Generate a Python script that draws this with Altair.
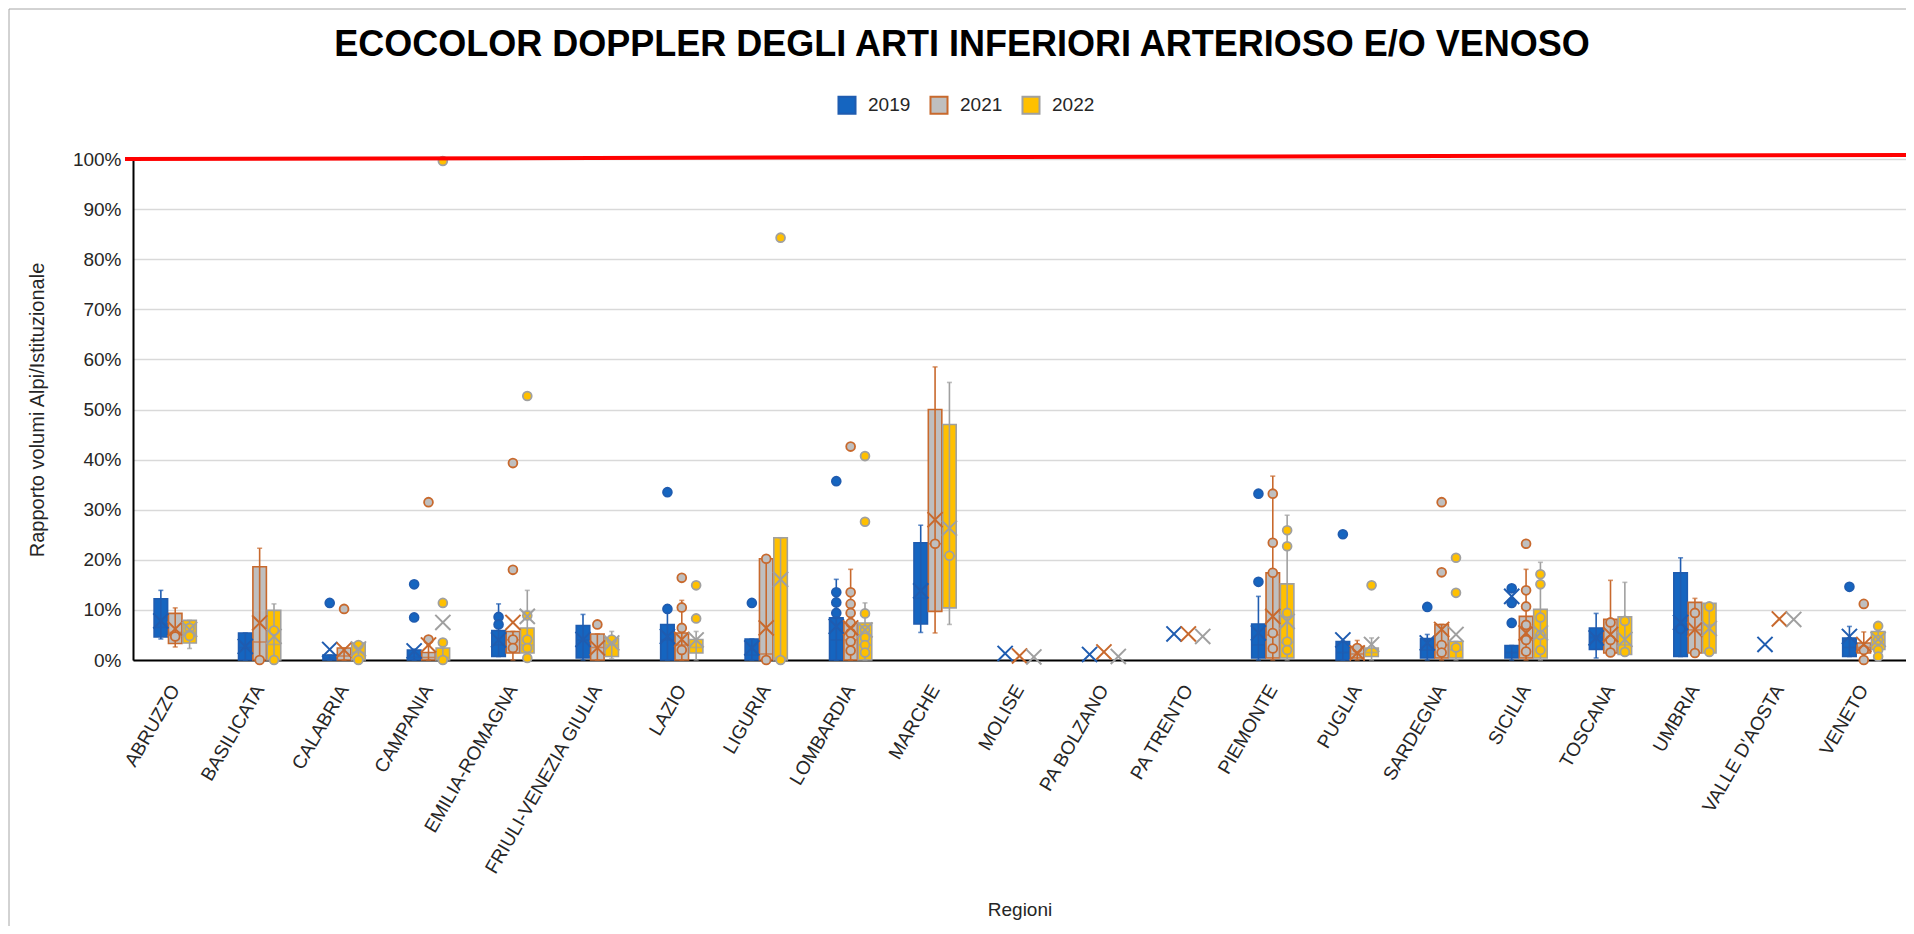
import altair as alt
import pandas as pd

TITLE = "ECOCOLOR DOPPLER DEGLI ARTI INFERIORI ARTERIOSO E/O VENOSO"
REGIONS = ["ABRUZZO", "BASILICATA", "CALABRIA", "CAMPANIA", "EMILIA-ROMAGNA",
           "FRIULI-VENEZIA GIULIA", "LAZIO", "LIGURIA", "LOMBARDIA", "MARCHE",
           "MOLISE", "PA BOLZANO", "PA TRENTO", "PIEMONTE", "PUGLIA", "SARDEGNA",
           "SICILIA", "TOSCANA", "UMBRIA", "VALLE D'AOSTA", "VENETO"]
YEARS = ["2019", "2021", "2022"]
N = None

# ---- 2019 (values in %) ----
LO_2019 = [4.2, 0, 0, 0, 0.7, 0, 0, 0, 0, 5.5, N, N, N, 0, 0, 0, 0, 0.4, 0.7, N, 0.7]
Q1_2019 = [4.6, 0, 0, 0, 0.7, 0.4, 0, 0, 0, 7.2, N, N, N, 0.4, 0, 0.4, 0.4, 2.1, 0.7, N, 0.7]
MED_2019 = [6.5, 2.5, 0.3, 0.5, 3.0, 4.0, 4.0, 1.0, 4.0, 12.3, N, N, N, 3.0, 1.5, 2.0, 1.5, 4.5, 6.2, N, 2.5]
Q3_2019 = [12.2, 5.4, 1.0, 2.0, 5.9, 6.9, 7.1, 4.2, 8.4, 23.4, N, N, N, 7.2, 3.7, 4.3, 2.9, 6.4, 17.4, N, 4.4]
HI_2019 = [13.9, 5.4, 1.0, 2.2, 11.2, 9.1, 11.0, 4.2, 16.1, 26.9, N, N, N, 12.7, 3.7, 5.1, 2.9, 9.3, 20.4, N, 6.7]
MEAN_2019 = [7.8, 2.7, 2.1, 1.8, 4.0, 4.1, 4.7, 2.4, 6.7, 13.8, 1.3, 1.1, 5.2, 5.4, 4.0, 3.4, 12.7, 4.4, 7.5, 3.1, 4.7]
POINTS_2019 = {"CALABRIA": [11.4], "CAMPANIA": [15.1, 8.5], "EMILIA-ROMAGNA": [8.6, 7.1],
               "LAZIO": [33.5, 10.2], "LIGURIA": [11.4], "LOMBARDIA": [35.7, 13.5, 11.5, 9.4],
               "PIEMONTE": [33.2, 15.6], "PUGLIA": [25.1], "SARDEGNA": [10.6],
               "SICILIA": [14.3, 11.4, 7.4], "UMBRIA": [6.2], "VENETO": [14.6]}

# ---- 2021 ----
LO_2021 = [2.6, 0, 0, 0, 0, 0, 0, 0, 0, 5.4, N, N, N, 0, 0, 0, 0, 1.4, 1.4, N, 0]
Q1_2021 = [3.3, 0, 0, 0, 1.4, 0, 0, 0, 0, 9.7, N, N, N, 0.4, 0.4, 0.4, 0.4, 1.4, 1.4, N, 1.4]
MED_2021 = [5.5, 3.6, 0.8, 0.5, 4.0, 2.5, 3.0, 1.2, 4.0, 23.2, N, N, N, 5.0, 1.2, 3.0, 4.0, 4.0, 6.0, N, 2.5]
Q3_2021 = [9.3, 18.6, 2.4, 1.5, 5.7, 5.2, 5.4, 20.2, 7.4, 50.0, N, N, N, 17.4, 2.7, 7.1, 8.7, 8.1, 11.5, N, 3.4]
HI_2021 = [10.4, 22.3, 2.4, 3.0, 5.7, 5.2, 11.9, 20.2, 18.1, 58.5, N, N, N, 36.7, 3.9, 7.1, 18.1, 15.9, 12.3, N, 5.6]
MEAN_2021 = [6.2, 7.4, 2.0, 3.0, 7.5, 2.4, 4.1, 6.4, 6.4, 28.0, 0.8, 1.6, 5.2, 8.7, 1.4, 6.1, 5.4, 5.1, 6.1, 8.2, 3.1]
POINTS_2021 = {"ABRUZZO": [4.7], "BASILICATA": [0], "CALABRIA": [10.2], "CAMPANIA": [31.5, 4.1],
               "EMILIA-ROMAGNA": [39.3, 18.0, 4.1, 2.4], "FRIULI-VENEZIA GIULIA": [7.1],
               "LAZIO": [16.4, 10.5, 6.4, 2.0], "LIGURIA": [20.2, 0],
               "LOMBARDIA": [42.6, 13.5, 11.2, 9.4, 7.4, 5.4, 3.7, 1.9], "MARCHE": [23.2],
               "PIEMONTE": [33.2, 23.4, 17.4, 5.4, 2.3], "PUGLIA": [2.4],
               "SARDEGNA": [31.5, 17.5, 3.0, 1.5], "SICILIA": [23.2, 13.9, 10.7, 7.0, 4.0, 1.7],
               "TOSCANA": [7.5, 4.0, 1.5], "UMBRIA": [9.4, 1.4], "VENETO": [11.2, 2.0, 0]}

# ---- 2022 ----
LO_2022 = [2.3, 0, 0, 0, 0, 0.3, 0, 0, 0, 7.1, N, N, N, 0, 0, 0, 0, 1.1, 1.4, N, 0.7]
Q1_2022 = [3.4, 0, 0, 0, 1.4, 0.7, 1.4, 0, 0, 10.4, N, N, N, 0.4, 0.7, 0.4, 0.4, 1.1, 1.4, N, 2.1]
MED_2022 = [5.5, 3.1, 1.5, 0.5, 3.0, 3.0, 2.5, 0.4, 3.0, 20.8, N, N, N, 3.5, 1.5, 2.0, 5.0, 3.0, 7.0, N, 4.0]
Q3_2022 = [7.9, 9.9, 3.4, 2.4, 6.4, 4.4, 4.1, 24.4, 7.4, 47.0, N, N, N, 15.2, 2.4, 3.7, 10.1, 8.6, 11.3, N, 5.7]
HI_2022 = [7.9, 11.2, 3.5, 2.4, 13.9, 5.7, 5.7, 24.4, 11.4, 55.4, N, N, N, 28.9, 4.4, 3.7, 19.5, 15.5, 11.3, N, 7.4]
MEAN_2022 = [6.1, 4.7, 2.2, 7.5, 8.7, 3.4, 4.0, 16.1, 6.0, 26.3, 0.6, 0.7, 4.7, 7.7, 3.1, 5.1, 5.4, 4.1, 6.3, 8.1, 4.1]
POINTS_2022 = {"ABRUZZO": [6.4, 4.8], "BASILICATA": [5.9, 0], "CALABRIA": [3.0, 0],
               "CAMPANIA": [99.6, 11.4, 3.5, 0], "EMILIA-ROMAGNA": [52.7, 8.9, 4.1, 2.4, 0.4],
               "FRIULI-VENEZIA GIULIA": [4.1], "LAZIO": [14.9, 8.3], "LIGURIA": [84.3, 0],
               "LOMBARDIA": [40.7, 27.6, 9.3, 6.0, 4.5, 3.0, 1.5], "MARCHE": [20.8],
               "PIEMONTE": [25.9, 22.7, 9.4, 3.7, 2.0], "PUGLIA": [14.9],
               "SARDEGNA": [20.4, 13.4, 2.5], "SICILIA": [17.1, 15.1, 8.5, 5.0, 2.0],
               "TOSCANA": [7.8, 1.6], "UMBRIA": [10.7, 1.6], "VENETO": [6.8, 4.0, 2.0, 0.7]}

FILLS = ["#1565C0", "#BFBFBF", "#FFC000"]
STROKES = ["#1F5CB0", "#C8692D", "#A0A0A0"]

# ---------- build tables ----------
STATS = {
    "2019": (LO_2019, Q1_2019, MED_2019, Q3_2019, HI_2019, MEAN_2019, POINTS_2019),
    "2021": (LO_2021, Q1_2021, MED_2021, Q3_2021, HI_2021, MEAN_2021, POINTS_2021),
    "2022": (LO_2022, Q1_2022, MED_2022, Q3_2022, HI_2022, MEAN_2022, POINTS_2022),
}
box_rows, mean_rows, pt_rows = [], [], []
for yr in YEARS:
    lo, q1, med, q3, hi, mean, pts = STATS[yr]
    for i, reg in enumerate(REGIONS):
        if q1[i] is not None:
            box_rows.append({"region": reg, "year": yr, "lo": lo[i] / 100, "q1": q1[i] / 100,
                             "med": med[i] / 100, "q3": q3[i] / 100, "hi": hi[i] / 100})
        mean_rows.append({"region": reg, "year": yr, "mean": mean[i] / 100})
        for v in pts.get(reg, []):
            pt_rows.append({"region": reg, "year": yr, "value": v / 100})
boxes = pd.DataFrame(box_rows)
means = pd.DataFrame(mean_rows)
points = pd.DataFrame(pt_rows)

W, H = 1773, 501
FONT = "Liberation Sans"
YTITLE = "Rapporto volumi Alpi/Istituzionale"

x_axis = alt.Axis(labelAngle=300, labelAlign="right", labelBaseline="middle", labelPadding=26,
                  labelFontSize=19, labelLimit=400, ticks=False, grid=False, titleFontSize=19,
                  titleFontWeight="normal", titleY=249, titleBaseline="middle")
y_axis = alt.Axis(values=[i / 10 for i in range(11)], format=".0%", ticks=False, labelPadding=12,
                  labelFontSize=19, grid=True, titleFontSize=20, titleFontWeight="normal",
                  titleAngle=270, titleX=-96, titleY=H / 2, titleBaseline="middle",
                  titleAlign="center")


def X():
    return alt.X("region:N", scale=alt.Scale(domain=REGIONS, paddingInner=0.5, paddingOuter=0.25),
                 axis=x_axis, title="Regioni")


def XO():
    return alt.XOffset("year:N", scale=alt.Scale(domain=YEARS, paddingInner=0.06, paddingOuter=0))


def Y(field):
    return alt.Y(field, type="quantitative", scale=alt.Scale(domain=[0, 1], nice=False),
                 axis=y_axis, title=YTITLE)


LEG = alt.Legend(orient="none", legendX=704, legendY=-64, direction="horizontal",
                 symbolType="square", symbolSize=290, symbolStrokeWidth=2, labelFontSize=19,
                 labelFont=FONT, labelColor="#262626", columnPadding=15, labelOffset=11,
                 title=None)

FILL_SCALE = alt.Scale(domain=YEARS, range=FILLS)
STROKE_SCALE = alt.Scale(domain=YEARS, range=STROKES)


def COLOR():
    return alt.Color("year:N", scale=alt.Scale(domain=YEARS, range=STROKES), legend=None)


whiskers = alt.Chart(boxes).mark_rule(strokeWidth=1.6).encode(
    x=X(), xOffset=XO(), y=Y("lo"), y2="hi", color=COLOR())
caps_lo = alt.Chart(boxes).mark_tick(size=5, thickness=1.6).encode(
    x=X(), xOffset=XO(), y=Y("lo"), color=COLOR())
caps_hi = alt.Chart(boxes).mark_tick(size=5, thickness=1.6).encode(
    x=X(), xOffset=XO(), y=Y("hi"), color=COLOR())
bars = alt.Chart(boxes).mark_bar(strokeWidth=1.6).encode(
    x=X(), xOffset=XO(), y=Y("q1"), y2="q3",
    fill=alt.Fill("year:N", scale=FILL_SCALE, legend=LEG),
    stroke=alt.Stroke("year:N", scale=STROKE_SCALE, legend=LEG))
medians = alt.Chart(boxes).mark_tick(size=12, thickness=1.6).encode(
    x=X(), xOffset=XO(), y=Y("med"), color=COLOR())
pts = alt.Chart(points).mark_point(filled=True, size=78, strokeWidth=1.8, opacity=1).encode(
    x=X(), xOffset=XO(), y=Y("value"),
    fill=alt.Fill("year:N", scale=FILL_SCALE, legend=None),
    stroke=alt.Stroke("year:N", scale=STROKE_SCALE, legend=None))
xs = alt.Chart(means).mark_point(shape="M-1,-1L1,1M-1,1L1,-1", size=230, strokeWidth=2,
                                 filled=False, opacity=1).encode(
    x=X(), xOffset=XO(), y=Y("mean"),
    stroke=alt.Stroke("year:N", scale=STROKE_SCALE, legend=None))

one = pd.DataFrame({"t": [TITLE]})
red = alt.Chart(one).mark_rule(color="#FF0000", strokeWidth=4).encode(
    x=alt.value(-8), x2=alt.value(W), y=alt.datum(1.0), y2=alt.datum(1.008))
frame_left = alt.Chart(one).mark_rule(color="#A6A6A6", strokeWidth=1).encode(
    x=alt.value(-124), y=alt.value(-150), y2=alt.value(767))
frame_top = alt.Chart(one).mark_rule(color="#A6A6A6", strokeWidth=1).encode(
    x=alt.value(-124), x2=alt.value(W), y=alt.value(-150))
title = alt.Chart(one).mark_text(fontSize=36, fontWeight="bold", font=FONT, color="#000000",
                                 align="center", baseline="middle").encode(
    text="t:N", x=alt.value(829), y=alt.value(-114))

chart = alt.layer(bars, whiskers, caps_lo, caps_hi, medians, pts, xs, red,
                  frame_left, frame_top, title).properties(
    width=W, height=H,
    autosize=alt.AutoSizeParams(type="none"),
    padding={"left": 125, "top": 151, "right": 0, "bottom": 266},
).configure_view(stroke="#595959", strokeWidth=1).configure_axis(
    labelFont=FONT, titleFont=FONT, labelColor="#262626", titleColor="#262626",
    gridColor="#D9D9D9", gridWidth=1.5, domainColor="#000000", domainWidth=2)

chart.save("out.html", embed_options={"renderer": "svg", "actions": False})
